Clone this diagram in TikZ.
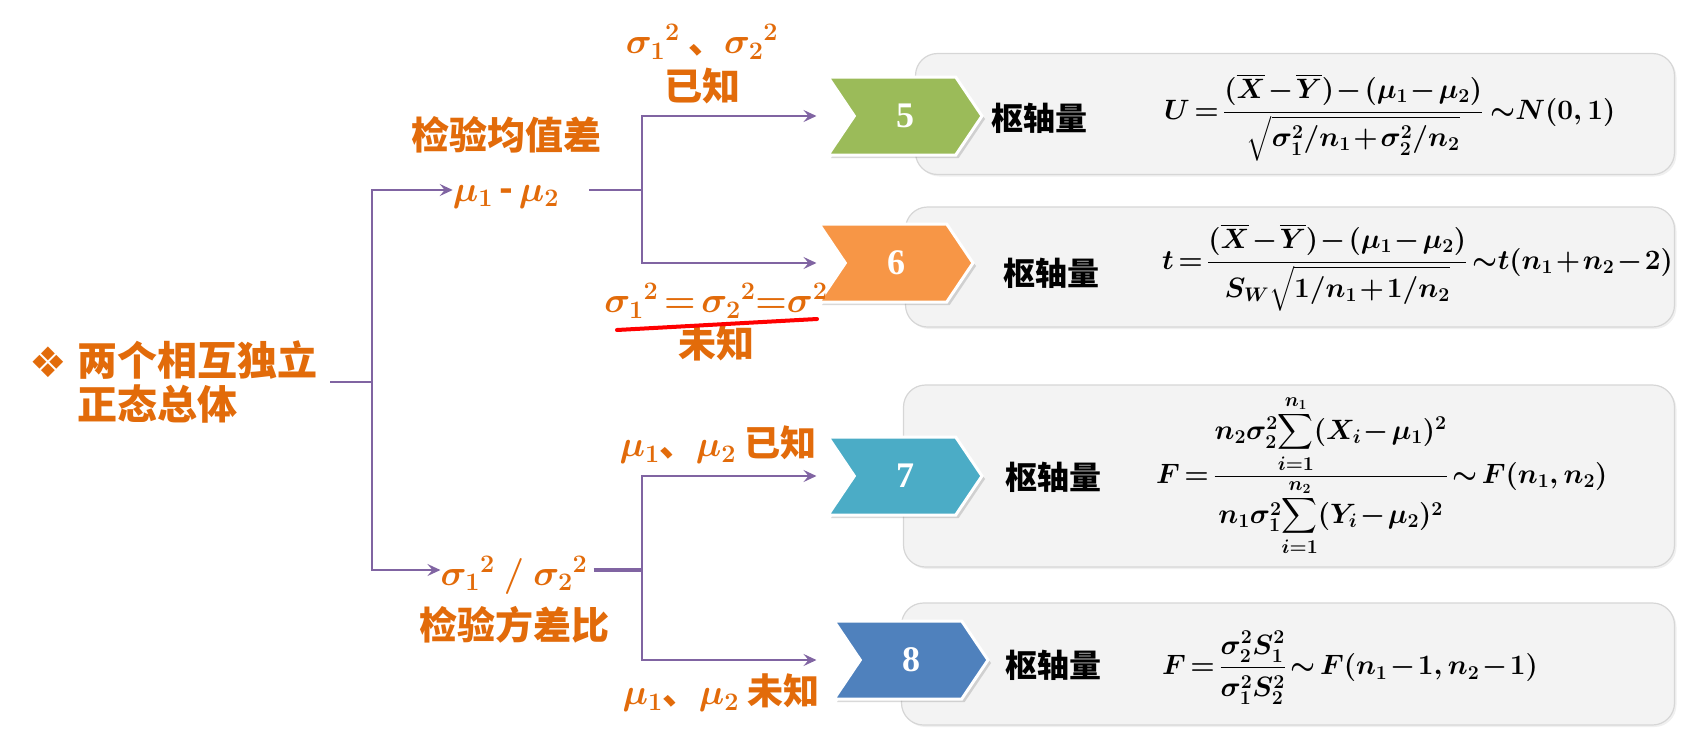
\RequirePackage{fix-cm}
\documentclass[tikz,border=0pt]{standalone}
\usepackage{amsmath}
\usepackage{fontspec}
\setmainfont{Liberation Serif}
\newfontfamily\cjk{Noto Sans CJK SC}
\newfontfamily\dingfont{DejaVu Sans}
\usetikzlibrary{shapes.symbols,arrows.meta,positioning,shadows}
\definecolor{labelorange}{RGB}{226,107,10}
\definecolor{linepurple}{RGB}{128,100,162}
\definecolor{chevgreen}{RGB}{155,187,89}
\definecolor{chevorange}{RGB}{247,150,70}
\definecolor{chevteal}{RGB}{75,172,198}
\definecolor{chevblue}{RGB}{79,129,189}
\definecolor{boxfill}{RGB}{243,243,243}
\definecolor{boxline}{RGB}{214,214,214}
\newcommand{\tightmath}{\medmuskip=1.5mu\relax\thickmuskip=2.5mu\relax}

\begin{document}
\begin{tikzpicture}[
    x=1pt, y=-1pt,
    branch/.style={draw=linepurple, line width=2.6pt},
    arrow/.style={branch, -{Stealth[length=13pt,width=12pt,inset=5pt]}},
    branchtext/.style={text=labelorange, font=\cjk\bfseries\boldmath\fontsize{38}{42}\selectfont, inner sep=0pt},
    mathtext/.style={branchtext, font=\cjk\bfseries\boldmath\fontsize{36}{40}\selectfont},
    pivotbox/.style={rounded corners=22pt, fill=boxfill, draw=boxline, line width=1.2pt, minimum width=770pt,
        drop shadow={opacity=0.12, shadow xshift=2pt, shadow yshift=-2pt}},
    chevron/.style={shape=signal, signal to=east, signal from=west, signal pointer angle=112,
        minimum width=154pt, minimum height=78pt, inner sep=0pt, draw=white, line width=3pt,
        text=white, font=\bfseries\fontsize{36}{40}\selectfont,
        drop shadow={opacity=0.3, shadow xshift=3pt, shadow yshift=-3pt}},
    pivotlabel/.style={font=\cjk\bfseries\fontsize{32}{36}\selectfont, inner sep=0pt, anchor=west},
    formula/.style={font=\boldmath\fontsize{28}{32}\selectfont, inner sep=0pt, anchor=west}
]
\useasboundingbox (0,0) rectangle (1697,750);

% root
\node[text=labelorange, font=\dingfont\fontsize{42}{42}\selectfont, inner sep=0pt] (bullet) at (48,362) {❖};
\node[branchtext, font=\cjk\bfseries\fontsize{40}{44}\selectfont, align=left, anchor=west] (root) at (77,382) {两个相互独立\\正态总体};
\coordinate (j0) at (372,382);
\draw[branch] ([xshift=13pt]root.east) -- (j0);

% two tests
\node[mathtext] (mean) at (506,197) {$\mu_1$\,-\,$\mu_2$};
\node[branchtext, above=32pt of mean] (meanname) {检验均值差};
\node[mathtext] (ratio) at (514,575) {$\sigma_1{}^2\:/\:\sigma_2{}^2$};
\node[branchtext, below=12pt of ratio] (rationame) {检验方差比};
\draw[arrow] (j0) |- ([yshift=7pt]mean.west);
\draw[arrow] (j0) |- ([yshift=5pt]ratio.west);

\coordinate (j1) at (642,190);
\coordinate (j2) at (642,570);
\draw[branch] ([xshift=30pt,yshift=7pt]mean.east) -- (j1);
\draw[branch, line width=4pt] ([xshift=6pt,yshift=5pt]ratio.east) -- (j2);

% pivot boxes
\node[pivotbox, minimum width=759pt, minimum height=121pt] (box5) at (1295,114) {};
\node[pivotbox, minimum width=769pt, minimum height=120pt] (box6) at (1290,267) {};
\node[pivotbox, minimum width=771pt, minimum height=182pt] (box7) at (1289,476) {};
\node[pivotbox, minimum width=773pt, minimum height=122pt] (box8) at (1288,664) {};

% chevrons
\node[chevron, fill=chevgreen] (c5) at (905,116) {5};
\node[chevron, fill=chevorange] (c6) at (896,263) {6};
\node[chevron, fill=chevteal] (c7) at (905,476) {7};
\node[chevron, fill=chevblue] (c8) at (911,660) {8};

\draw[arrow] (j1) |- ([xshift=-36pt]c5.west);
\draw[arrow] (j1) |- ([xshift=-27pt]c6.west);
\draw[arrow] (j2) |- ([xshift=-36pt]c7.west);
\draw[arrow] (j2) |- ([xshift=-42pt]c8.west);

% branch conditions
\node[mathtext] (known) at (702,42) {$\sigma_1{}^2$ 、$\sigma_2{}^2$};
\node[branchtext, below=8pt of known] (knowntext) {已知};
\node[mathtext] (equal) at (716,301) {$\tightmath\sigma_1{}^2=\sigma_2{}^2{=}\sigma^2$};
\node[branchtext, below=6pt of equal] (unknowntext) {未知};
\draw[red, line width=4pt, line cap=round] (617,330) -- (817,319);
\node[mathtext] (muknown) at (718,445) {$\mu_1$、$\mu_2$ 已知};
\node[mathtext] (muunknown) at (721,693) {$\mu_1$、$\mu_2$ 未知};

% pivot quantities
\node[pivotlabel] (p5) at (991,118) {枢轴量};
\node[pivotlabel] (p6) at (1003,273) {枢轴量};
\node[pivotlabel] (p7) at (1005,477) {枢轴量};
\node[pivotlabel] (p8) at (1005,665) {枢轴量};

\node[formula] (f5) at (1164,118) {$\tightmath U=\dfrac{(\overline{X}-\overline{Y})-(\mu_1-\mu_2)}{\sqrt{\sigma_1^2/n_1+\sigma_2^2/n_2}}\ \mathord{\sim}N(0,1)$};
\node[formula] (f6) at (1162,268) {$\tightmath t=\dfrac{(\overline{X}-\overline{Y})-(\mu_1-\mu_2)}{S_W\sqrt{1/n_1+1/n_2}}\,\mathord{\sim}t(n_1+n_2-2)$};
\node[formula] (f7) at (1156,476) {$\tightmath F=\dfrac{n_2\sigma_2^2{\displaystyle\sum_{i=1}^{n_1}}(X_i-\mu_1)^2}{n_1\sigma_1^2{\displaystyle\sum_{i=1}^{n_2}}(Y_i-\mu_2)^2}\sim F(n_1,n_2)$};
\node[formula] (f8) at (1162,668) {$\tightmath F=\dfrac{\sigma_2^2S_1^2}{\sigma_1^2S_2^2}\sim F(n_1-1,n_2-1)$};

\end{tikzpicture}
\end{document}
